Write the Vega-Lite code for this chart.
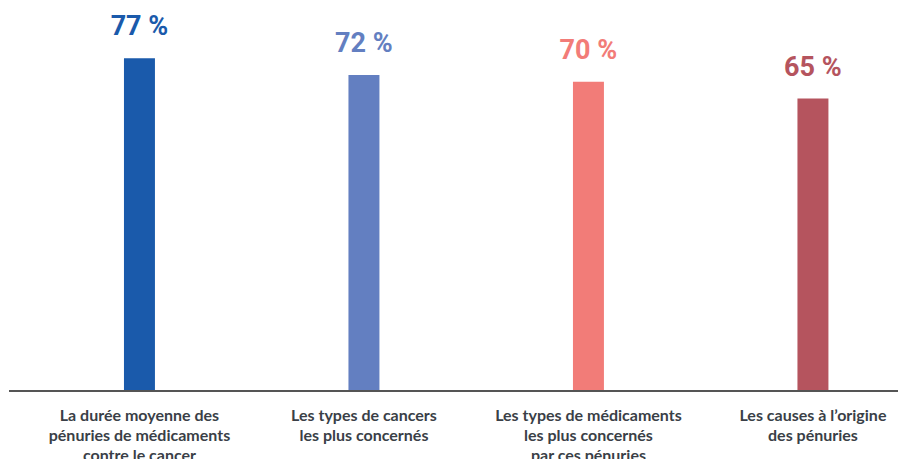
{
  "$schema": "https://vega.github.io/schema/vega-lite/v6.json",
  "width": 889,
  "height": 391,
  "autosize": "none",
  "padding": {"left": 9, "top": 0, "right": 0, "bottom": 68},
  "background": "white",
  "config": {"view": {"stroke": null}},
  "data": {
    "values": [
      {"label": "La durée moyenne des\npénuries de médicaments\ncontre le cancer", "value": 77, "text": "77 %"},
      {"label": "Les types de cancers\nles plus concernés", "value": 72, "text": "72 %"},
      {"label": "Les types de médicaments\nles plus concernés\npar ces pénuries", "value": 70, "text": "70 %"},
      {"label": "Les causes à l’origine\ndes pénuries", "value": 65, "text": "65 %"}
    ]
  },
  "encoding": {
    "x": {
      "field": "label",
      "type": "nominal",
      "sort": null,
      "scale": {"paddingInner": 0.862, "paddingOuter": 0.411, "align": 0.623},
      "axis": {
        "title": null,
        "domain": false,
        "ticks": false,
        "labelAngle": 0,
        "labelExpr": "split(datum.label, '\\n')",
        "labelFont": "Lato",
        "labelFontWeight": "bold",
        "labelFontSize": 16,
        "labelColor": "#3a3f47",
        "labelLineHeight": 20,
        "labelPadding": 16,
        "labelBaseline": "top",
        "labelLimit": 300
      }
    },
    "color": {
      "field": "label",
      "type": "nominal",
      "sort": null,
      "scale": {"range": ["#1a5aab", "#637fc1", "#f27c78", "#b5545e"]},
      "legend": null
    }
  },
  "layer": [
    {
      "mark": {"type": "bar"},
      "encoding": {
        "y": {
          "field": "value",
          "type": "quantitative",
          "scale": {"domain": [-22.3, 94.4], "zero": false, "nice": false},
          "axis": null
        },
        "y2": {"datum": -22.3}
      }
    },
    {
      "mark": {"type": "text", "baseline": "alphabetic", "dy": -23, "font": "Roboto", "fontWeight": "bold", "fontSize": 27},
      "encoding": {
        "y": {"field": "value", "type": "quantitative"},
        "text": {"field": "text"}
      }
    },
    {
      "mark": {"type": "rule", "color": "#555555", "strokeWidth": 1.5},
      "encoding": {
        "y": {"datum": -22.3},
        "color": {"value": "#555555"},
        "x": null
      }
    }
  ]
}
